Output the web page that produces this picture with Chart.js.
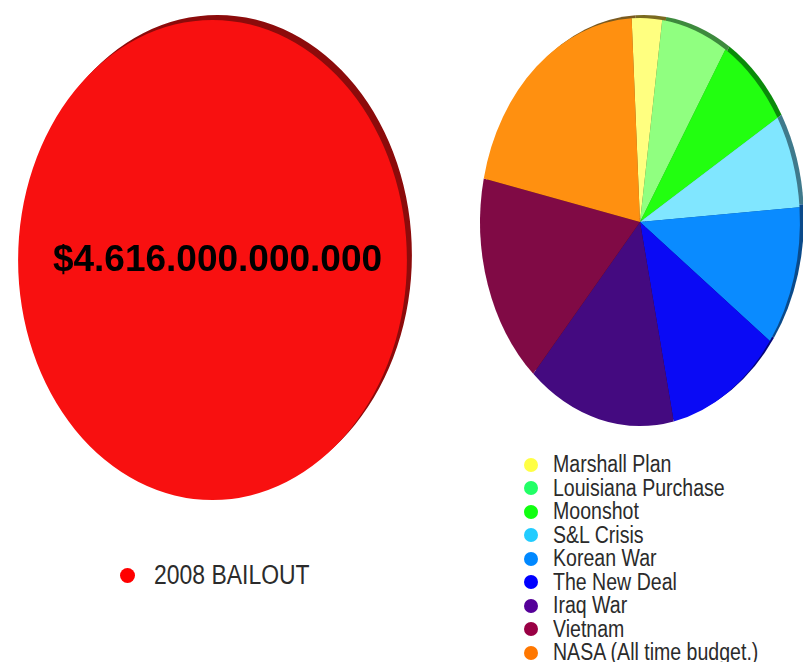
<!DOCTYPE html>
<html>
<head>
<meta charset="utf-8">
<script src="https://cdn.jsdelivr.net/npm/chart.js@4.4.1/dist/chart.umd.min.js"></script>
<style>
  html, body { margin: 0; padding: 0; background: #fff; width: 803px; height: 662px; overflow: hidden; position: relative; }
  .box { position: absolute; }
  #bailout-box { left: 0; top: 0; width: 425px; height: 520px; }
  #spending-box { left: 430px; top: 0; width: 420px; height: 444px; }
  ul.legend { position: absolute; margin: 0; padding: 0; list-style: none; font-family: "Liberation Sans", Arial, sans-serif; color: #2b2b2b; }
  ul.legend li { display: flex; align-items: center; white-space: nowrap; }
  ul.legend .dot { display: inline-block; border-radius: 50%; flex: none; }
  ul.legend .txt { display: inline-block; transform: scaleX(0.85); transform-origin: left center; }
  #bailout-legend { left: 120px; top: 560px; font-size: 27px; }
  #bailout-legend li { height: 30px; }
  #bailout-legend .dot { width: 15px; height: 15px; margin-right: 19px; }
  #spending-legend { left: 524px; top: 453px; font-size: 23px; }
  #spending-legend li { height: 23.5px; }
  #spending-legend .dot { width: 14px; height: 14px; margin-right: 15px; }
</style>
</head>
<body>
<div class="box" id="bailout-box"><canvas id="bailout"></canvas></div>
<div class="box" id="spending-box"><canvas id="spending"></canvas></div>
<ul class="legend" id="bailout-legend"></ul>
<ul class="legend" id="spending-legend"></ul>
<script>
// values in billions of dollars
const bailoutLabels = ["2008 BAILOUT"];
const bailoutValues = [4616];

const spendingLabels = ["Marshall Plan", "Louisiana Purchase", "Moonshot", "S&L Crisis", "Korean War",
  "The New Deal", "Iraq War", "Vietnam", "NASA (All time budget.)"];
const spendingValues = [120, 265, 295, 290, 435, 460, 590, 660, 815];

const bailoutColors = ["#f81010"];
const bailoutRim = ["#8c0b0b"];
const bailoutLegendColors = ["#ff0000"];

const spendingColors = ["#ffff80", "#90ff80", "#22ff10", "#80e6ff", "#0a8bff", "#0a0af5", "#440a80", "#800a45", "#ff9010"];
const spendingRim = ["#7a6a20", "#3d8a3d", "#0a8a0a", "#3f7a8c", "#0a4a8a", "#05057a", "#220540", "#400522", "#7a5a20"];
const spendingLegendColors = ["#ffff44", "#22ff66", "#11ff11", "#22ccff", "#0088ff", "#0000ff", "#550099", "#990044", "#ff7700"];

// squash the round pie into an upright ellipse and give it a darker rim behind
const ellipse = {
  id: "ellipse",
  beforeDatasetsDraw(chart, args, opts) {
    const arcs = chart.getDatasetMeta(0).data;
    const ctx = chart.ctx;
    const cx = arcs[0].x;
    const cy = arcs[0].y;
    ctx.save();
    ctx.translate(cx, cy);
    ctx.scale(opts.scaleX, 1);
    ctx.translate(-cx, -cy);
    const dx = opts.dx / opts.scaleX;
    arcs.forEach((a, i) => {
      ctx.beginPath();
      ctx.moveTo(a.x + dx, a.y + opts.dy);
      ctx.arc(a.x + dx, a.y + opts.dy, a.outerRadius, a.startAngle, a.endAngle);
      ctx.closePath();
      ctx.fillStyle = opts.rim[i];
      ctx.fill();
    });
  },
  afterDatasetsDraw(chart) {
    chart.ctx.restore();
  },
};

const valueLabel = {
  id: "valueLabel",
  afterDatasetsDraw(chart, args, opts) {
    if (!opts.show) return;
    const arc = chart.getDatasetMeta(0).data[0];
    const value = chart.data.datasets[0].data[0] * 1e9;
    const text = "$" + String(value).replace(/\B(?=(\d{3})+(?!\d))/g, ".");
    const ctx = chart.ctx;
    ctx.save();
    ctx.font = 'bold 37px "Liberation Sans", Arial, sans-serif';
    ctx.fillStyle = "#000";
    ctx.textAlign = "center";
    ctx.textBaseline = "alphabetic";
    ctx.fillText(text, arc.x + 5, arc.y + 11);
    ctx.restore();
  },
};

const htmlLegend = {
  id: "htmlLegend",
  afterUpdate(chart, args, opts) {
    const ul = document.getElementById(opts.containerID);
    ul.innerHTML = "";
    const items = chart.options.plugins.legend.labels.generateLabels(chart);
    items.forEach((item) => {
      const li = document.createElement("li");
      const dot = document.createElement("span");
      dot.className = "dot";
      dot.style.background = item.fillStyle;
      const txt = document.createElement("span");
      txt.className = "txt";
      txt.textContent = item.text;
      li.appendChild(dot);
      li.appendChild(txt);
      ul.appendChild(li);
    });
  },
};

function makePie(id, labels, values, colors, legendColors, rim, opts) {
  return new Chart(document.getElementById(id), {
    type: "pie",
    data: {
      labels: labels,
      datasets: [{
        data: values,
        backgroundColor: colors,
        borderWidth: 0,
        radius: opts.radius,
        rotation: opts.rotation,
        clip: false,
      }],
    },
    options: {
      responsive: true,
      maintainAspectRatio: false,
      animation: false,
      events: [],
      plugins: {
        legend: {
          display: false,
          labels: {
            generateLabels: (chart) => chart.data.labels.map((text, i) => ({ text: text, fillStyle: legendColors[i] })),
          },
        },
        tooltip: { enabled: false },
        ellipse: { scaleX: opts.scaleX, dx: opts.dx, dy: opts.dy, rim: rim },
        valueLabel: { show: opts.label },
        htmlLegend: { containerID: opts.legend },
      },
    },
    plugins: [ellipse, valueLabel, htmlLegend],
  });
}

makePie("bailout", bailoutLabels, bailoutValues, bailoutColors, bailoutLegendColors, bailoutRim,
  { radius: 240, rotation: 0, scaleX: 0.81, dx: 5, dy: -5, label: true, legend: "bailout-legend" });

makePie("spending", spendingLabels, spendingValues, spendingColors, spendingLegendColors, spendingRim,
  { radius: 204, rotation: -3, scaleX: 0.784, dx: 4, dy: -3, label: false, legend: "spending-legend" });
</script>
</body>
</html>
